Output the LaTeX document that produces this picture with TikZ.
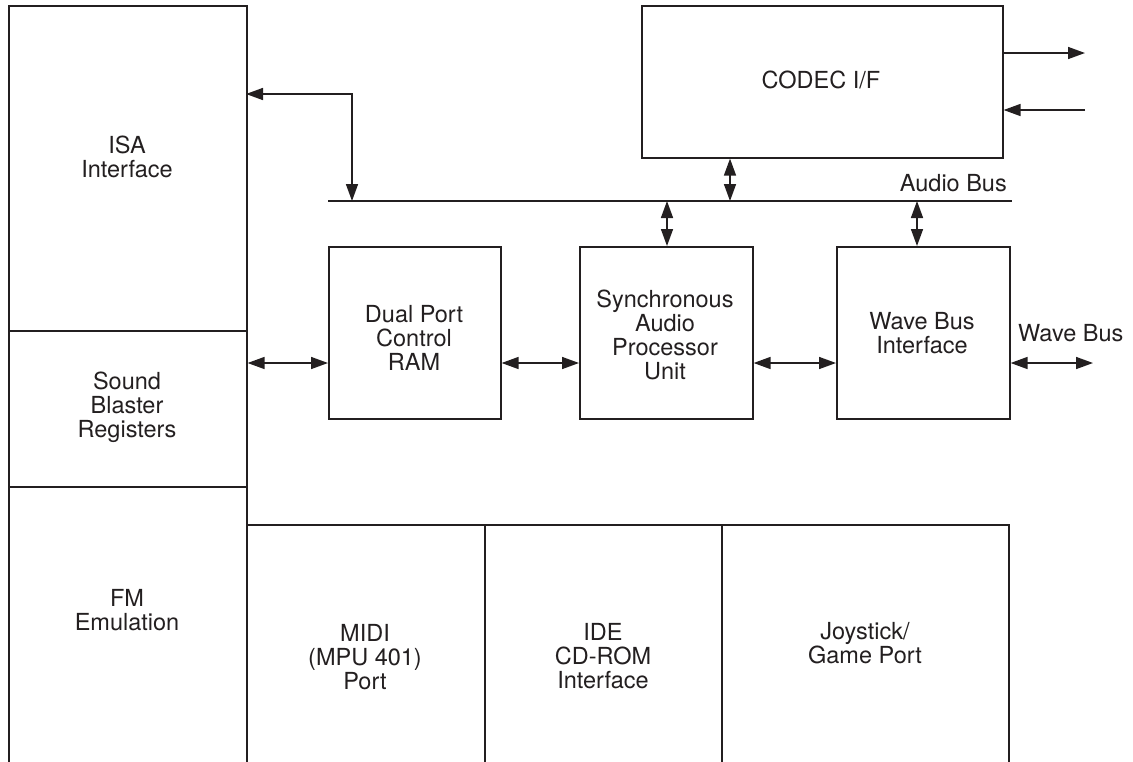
\documentclass[tikz,border=0pt]{standalone}
\usepackage{fontspec}
\setmainfont{TeX Gyre Heros}
\usepackage{tikz}
\usetikzlibrary{arrows.meta,positioning}
\definecolor{InkGray}{HTML}{231F20}
\tikzstyle{box} = [draw=InkGray,line width=1.6pt,anchor=north west,inner sep=0pt]
\tikzstyle{lbl} = [align=center,inner sep=0pt,text=InkGray,font=\fontsize{23.5}{24}\selectfont]
\tikzstyle{link} = [draw=InkGray,line width=1.6pt,{Triangle[length=17pt,width=12pt]}-{Triangle[length=17pt,width=12pt]}]
\tikzstyle{onelink} = [draw=InkGray,line width=1.6pt,-{Triangle[length=17pt,width=12pt]}]

\begin{document}
\begin{tikzpicture}[x=1pt,y=-1pt]
					\useasboundingbox (0,0) rectangle (1133,761);
					\clip (0,0) rectangle (1133,761);
					% left column
					\node[box,minimum width=238pt,minimum height=325pt] (isa) at (8,5) {};
					\node[box,minimum width=238pt,minimum height=156pt] (sb) at (8,330) {};
					\node[box,minimum width=238pt,minimum height=314pt] (fm) at (8,486) {};
					% bottom row
					\node[box,minimum width=238pt,minimum height=276pt] (midi) at (246,524) {};
					\node[box,minimum width=237pt,minimum height=276pt] (ide) at (484,524) {};
					\node[box,minimum width=287pt,minimum height=276pt] (joy) at (721,524) {};
					% codec and processing blocks
					\node[box,minimum width=361pt,minimum height=152pt] (codec) at (641,5) {};
					\node[box,minimum width=172pt,minimum height=172pt] (dual) at (328,246) {};
					\node[box,minimum width=173pt,minimum height=172pt] (sync) at (579,246) {};
					\node[box,minimum width=173pt,minimum height=172pt] (wave) at (836,246) {};
					
					\node[lbl] (isatxt) at (127,157) {ISA\\Interface};
					\node[lbl] (sbtxt) at (127,407) {Sound\\Blaster\\Registers};
					\node[lbl] (fmtxt) at (127,610) {FM\\Emulation};
					\node[lbl] (miditxt) at (365,657) {MIDI\\(MPU 401)\\Port};
					\node[lbl] (idetxt) at (603,656) {IDE\\CD-ROM\\Interface};
					\node[lbl] (joytxt) at (865,643) {Joystick/\\Game Port};
					\node[lbl] (codectxt) at (821,80) {CODEC I/F};
					\node[lbl] (dualtxt) at (414,338) {Dual Port\\Control\\RAM};
					\node[lbl] (synctxt) at (665,335) {Synchronous\\Audio\\Processor\\Unit};
					\node[lbl] (wavetxt) at (922,333) {Wave Bus\\Interface};
					
					% audio bus
					\coordinate (busL) at (328,201);
					\coordinate (busR) at (1012,201);
					\draw[draw=InkGray,line width=1.6pt] (busL) -- (busR);
					\node[lbl,anchor=east] (bustxt) at (1007,183) {Audio Bus};
					
					\coordinate (isaport) at (246,94);
					\coordinate (isatap) at (352,201);
					\draw[link] (isaport) -- (isatap |- isaport) -- (isatap);
					\coordinate (codectap) at (730,201);
					\draw[link] (codec.south -| codectap) -- (codectap);
					\coordinate (synctap) at (667,201);
					\draw[link] (synctap) -- (sync.north -| synctap);
					\coordinate (wavetap) at (917,201);
					\draw[link] (wavetap) -- (wave.north -| wavetap);
					
					% codec outputs
					\coordinate (codout) at (1085,53);
					\coordinate (codin) at (1085,110);
					\draw[onelink] (codec.east |- codout) -- (codout);
					\draw[onelink] (codin) -- (codec.east |- codin);
					
					% data path
					\coordinate (row) at (0,363);
					\coordinate (wbend) at (1093,363);
					\draw[link] (sb.east |- row) -- (dual.west |- row);
					\draw[link] (dual.east |- row) -- (sync.west |- row);
					\draw[link] (sync.east |- row) -- (wave.west |- row);
					\draw[link] (wave.east |- row) -- (wbend);
					\node[lbl,anchor=west] (wbtxt) at (1018,333) {Wave Bus};
					
					\end{tikzpicture}
\end{document}
